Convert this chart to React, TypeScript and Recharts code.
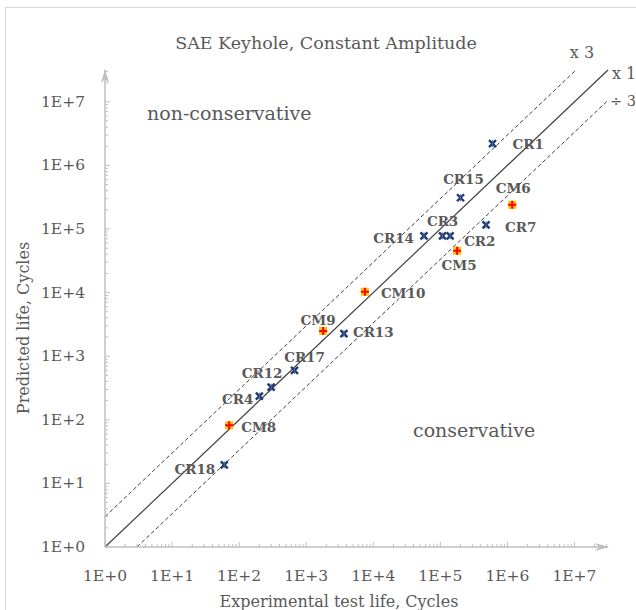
import React from "react";
import { ScatterChart, Scatter, XAxis, YAxis, ReferenceLine } from "recharts";

// CR specimens: experimental life vs predicted life (cycles)
const crNames = ["CR1", "CR2", "CR3", "CR4", "CR7", "CR12", "CR13", "CR14", "CR15", "CR17", "CR18"];
const crExp = [6.0e5, 1.4e5, 1.08e5, 2.0e2, 4.8e5, 3.0e2, 3.65e3, 5.7e4, 2.0e5, 6.7e2, 6.0e1];
const crPred = [2.2e6, 7.8e4, 7.8e4, 2.35e2, 1.16e5, 3.26e2, 2.26e3, 7.8e4, 3.1e5, 6.0e2, 1.96e1];

// CM specimens
const cmNames = ["CM5", "CM6", "CM8", "CM9", "CM10"];
const cmExp = [1.78e5, 1.18e6, 7.1e1, 1.79e3, 7.5e3];
const cmPred = [4.55e4, 2.4e5, 8.2e1, 2.5e3, 1.03e4];

// axes
const AXIS_MAX = 10 ** 7.5;
const decades = [0, 1, 2, 3, 4, 5, 6];
const lastTicks = [1e7, 2e7, 3e7];
const allTicks = [
  ...decades.flatMap((d) => [1, 2, 3, 4, 5, 6, 7, 8, 9].map((m) => m * 10 ** d)),
  ...lastTicks,
];

// scatter bands: x1, x3, ÷3
const unityLine = [{ x: 1, y: 1 }, { x: AXIS_MAX, y: AXIS_MAX }];
const times3Line = [{ x: 1, y: 3 }, { x: AXIS_MAX / 3, y: AXIS_MAX }];
const div3Line = [{ x: 3, y: 1 }, { x: AXIS_MAX, y: AXIS_MAX / 3 }];

const crData = crNames.map((name, i) => ({ name, x: crExp[i], y: crPred[i] }));
const cmData = cmNames.map((name, i) => ({ name, x: cmExp[i], y: cmPred[i] }));

// where each point's tag sits relative to its marker
const labelPos: Record<string, [string, number, number]> = {
  CR1: ["start", 20, 0],
  CR2: ["start", 14, 5],
  CR3: ["middle", 0, -15],
  CR4: ["end", -6, 3],
  CR7: ["start", 19, 2],
  CR12: ["middle", -9, -14],
  CR13: ["start", 9, -2],
  CR14: ["end", -10, 2],
  CR15: ["middle", 3, -19],
  CR17: ["middle", 10, -13],
  CR18: ["end", -9, 4],
  CM5: ["middle", 2, 14],
  CM6: ["middle", 1, -17],
  CM8: ["start", 12, 2],
  CM9: ["middle", -5, -11],
  CM10: ["start", 16, 1],
};

const FONT = '"DejaVu Serif", serif';
const TEXT = "#595959";
const AXIS = "#bfbfbf";

const isMajor = (v: number) => {
  const l = Math.log10(v);
  return Math.abs(l - Math.round(l)) < 1e-9;
};
const fmt = (v: number) => `1E+${Math.round(Math.log10(v))}`;

const PointTag = ({ cx, cy, name }: { cx: number; cy: number; name: string }) => {
  const [anchor, dx, dy] = labelPos[name] ?? ["start", 10, 0];
  return (
    <text
      x={cx + dx}
      y={cy + dy}
      textAnchor={anchor as any}
      dominantBaseline="central"
      fontFamily={FONT}
      fontSize={13.5}
      fontWeight="bold"
      fill={TEXT}
    >
      {name}
    </text>
  );
};

const CrShape = (p: any) => {
  const { cx, cy, payload } = p;
  const s = 3.5;
  return (
    <g>
      <path
        d={`M${cx - s},${cy - s}L${cx + s},${cy + s}M${cx - s},${cy + s}L${cx + s},${cy - s}`}
        stroke="#1f3a6e"
        strokeWidth={2.4}
      />
      <path d={`M${cx},${cy - s}L${cx},${cy + s}`} stroke="#4a6aa5" strokeWidth={1} />
      <PointTag cx={cx} cy={cy} name={payload.name} />
    </g>
  );
};

const CmShape = (p: any) => {
  const { cx, cy, payload } = p;
  const s = 4;
  return (
    <g>
      <rect x={cx - s} y={cy - s} width={2 * s} height={2 * s} fill="#ffc000" />
      <path
        d={`M${cx - s},${cy}L${cx + s},${cy}M${cx},${cy - s}L${cx},${cy + s}`}
        stroke="#ff0000"
        strokeWidth={2}
      />
      <PointTag cx={cx} cy={cy} name={payload.name} />
    </g>
  );
};

const XTick = (p: any) => {
  const { x, y, payload } = p;
  const major = isMajor(payload.value);
  return (
    <g>
      <line x1={x} x2={x} y1={y} y2={y - (major ? 5 : 3)} stroke={AXIS} strokeWidth={1} />
      {major && (
        <text
          x={x}
          y={y + 29}
          textAnchor="middle"
          dominantBaseline="central"
          fontFamily={FONT}
          fontSize={15.5}
          fill={TEXT}
        >
          {fmt(payload.value)}
        </text>
      )}
    </g>
  );
};

const YTick = (p: any) => {
  const { x, y, payload } = p;
  const major = isMajor(payload.value);
  return (
    <g>
      <line x1={x} x2={x + (major ? 5 : 3)} y1={y} y2={y} stroke={AXIS} strokeWidth={1} />
      {major && (
        <text
          x={x - 20}
          y={y}
          textAnchor="end"
          dominantBaseline="central"
          fontFamily={FONT}
          fontSize={15.5}
          fill={TEXT}
        >
          {fmt(payload.value)}
        </text>
      )}
    </g>
  );
};

export default function App() {
  return (
    <div
      style={{
        position: "absolute",
        left: 0,
        top: 0,
        width: 636,
        height: 610,
        overflow: "hidden",
        background: "#fff",
      }}
    >
      <div
        style={{
          position: "absolute",
          left: 5,
          top: 7,
          width: 700,
          height: 700,
          border: "1px solid #d9d9d9",
        }}
      />
      <svg width={0} height={0} style={{ position: "absolute" }}>
        <defs>
          <marker
            id="axArrow"
            viewBox="0 0 14 8"
            refX={13}
            refY={4}
            markerWidth={14}
            markerHeight={8}
            markerUnits="userSpaceOnUse"
            orient="auto-start-reverse"
          >
            <path d="M0,0 L14,4 L0,8 L4,4 Z" fill={AXIS} />
          </marker>
        </defs>
      </svg>
      <div style={{ position: "absolute", left: 0, top: 0 }}>
        <ScatterChart width={636} height={610} margin={{ top: 70, right: 28, bottom: 0, left: 0 }}>
          <XAxis
            type="number"
            dataKey="x"
            scale="log"
            domain={[1, AXIS_MAX]}
            allowDataOverflow
            ticks={allTicks}
            interval={0}
            height={63}
            tickSize={0}
            tickMargin={0}
            tickLine={false}
            tick={<XTick />}
            axisLine={{ stroke: AXIS, strokeWidth: 1.5, markerEnd: "url(#axArrow)" }}
          />
          <YAxis
            type="number"
            dataKey="y"
            scale="log"
            domain={[1, AXIS_MAX]}
            allowDataOverflow
            ticks={allTicks}
            interval={0}
            width={105}
            tickSize={0}
            tickMargin={0}
            tickLine={false}
            tick={<YTick />}
            axisLine={{ stroke: AXIS, strokeWidth: 1.5, markerStart: "url(#axArrow)" }}
          />
          <ReferenceLine
            segment={times3Line}
            stroke="#404040"
            strokeWidth={1}
            strokeDasharray="4 2.5"
            ifOverflow="visible"
          />
          <ReferenceLine
            segment={div3Line}
            stroke="#404040"
            strokeWidth={1}
            strokeDasharray="4 2.5"
            ifOverflow="visible"
          />
          <ReferenceLine segment={unityLine} stroke="#404040" strokeWidth={1.2} ifOverflow="visible" />
          <Scatter data={crData} shape={CrShape} isAnimationActive={false} />
          <Scatter data={cmData} shape={CmShape} isAnimationActive={false} />
        </ScatterChart>
      </div>
      <svg
        width={636}
        height={610}
        style={{ position: "absolute", left: 0, top: 0, pointerEvents: "none" }}
        fontFamily={FONT}
        fill={TEXT}
      >
        <text x={326} y={43} textAnchor="middle" dominantBaseline="central" fontSize={17.5}>
          SAE Keyhole, Constant  Amplitude
        </text>
        <text x={147} y={113} dominantBaseline="central" fontSize={19}>
          non-conservative
        </text>
        <text x={413} y={430} dominantBaseline="central" fontSize={19}>
          conservative
        </text>
        <text
          x={23}
          y={328}
          textAnchor="middle"
          dominantBaseline="central"
          fontSize={16}
          transform="rotate(-90 23 328)"
        >
          Predicted life, Cycles
        </text>
        <text x={339} y={601} textAnchor="middle" dominantBaseline="central" fontSize={16}>
          Experimental  test life, Cycles
        </text>
        <text x={582} y={52} textAnchor="middle" dominantBaseline="central" fontSize={16}>
          x 3
        </text>
        <text x={612} y={73} dominantBaseline="central" fontSize={16}>
          x 1
        </text>
        <text x={610} y={101} dominantBaseline="central" fontSize={14.5}>
          ÷ 3
        </text>
      </svg>
    </div>
  );
}
